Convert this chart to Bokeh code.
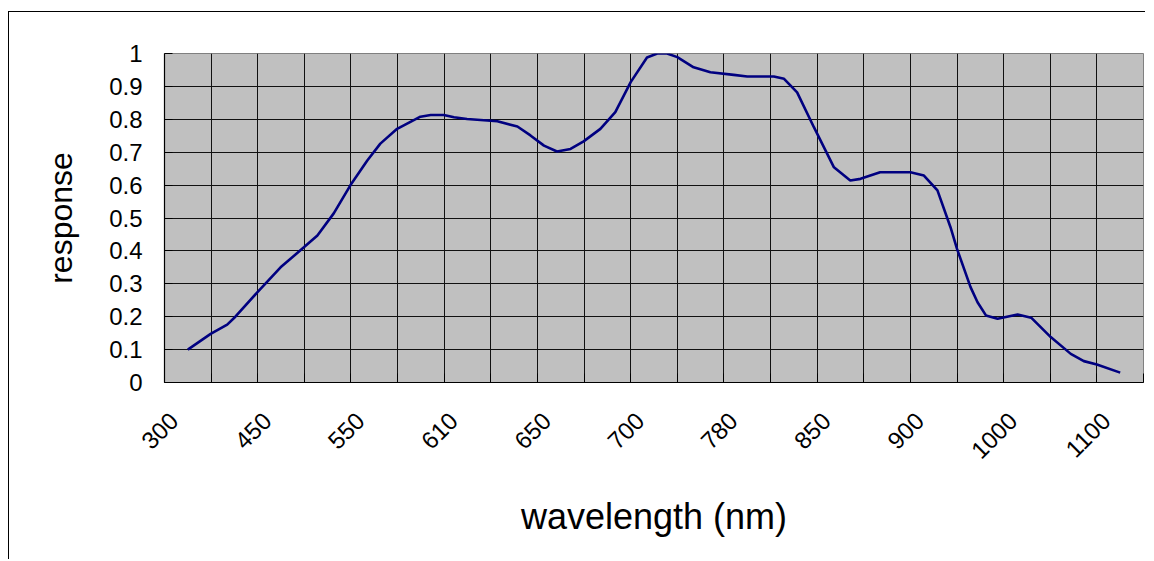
import math
from bokeh.plotting import figure
from bokeh.models import Range1d, FixedTicker
from bokeh.embed import file_html
from bokeh.resources import INLINE

# ---- data (x = category index on the Excel-style category axis) ----
tick_labels = ["300", "450", "550", "610", "650", "700", "780", "850", "900", "1000", "1100"]
n_categories = 21

category_pos = [0.0, 0.49, 0.845, 1.02, 1.49, 1.99, 2.49, 2.78, 3.13, 3.49, 3.85, 4.13, 4.49,
                4.99, 5.21, 5.49, 5.71, 5.99, 6.64, 7.07, 7.35, 7.64, 7.92, 8.21, 8.49, 8.85,
                9.17, 9.50, 9.85, 10.07, 10.28, 10.50, 10.85, 11.21, 11.71, 12.0, 12.57, 12.79,
                13.07, 13.43, 13.86, 14.21, 14.43, 14.85, 15.50, 15.79, 16.08, 16.36, 16.50,
                16.79, 16.94, 17.12, 17.37, 17.80, 18.09, 18.51, 18.94, 19.22, 19.50, 20.0]
response = [0.10, 0.148, 0.176, 0.200, 0.274, 0.350, 0.411, 0.447, 0.514, 0.600, 0.675, 0.726,
            0.771, 0.808, 0.813, 0.813, 0.806, 0.801, 0.794, 0.778, 0.751, 0.720, 0.702, 0.710,
            0.733, 0.771, 0.822, 0.913, 0.988, 1.0, 1.0, 0.989, 0.958, 0.943, 0.935, 0.930,
            0.930, 0.923, 0.882, 0.776, 0.654, 0.614, 0.619, 0.639, 0.639, 0.629, 0.584, 0.472,
            0.406, 0.290, 0.244, 0.204, 0.194, 0.207, 0.197, 0.138, 0.087, 0.065, 0.055, 0.03]

y_ticks = [i / 10 for i in range(11)]

FONT = "Liberation Sans"

p = figure(width=1137, height=548, output_backend="svg", toolbar_location=None,
           x_range=Range1d(-0.5, n_categories - 0.5), y_range=Range1d(0, 1),
           min_border_left=155, min_border_right=3, min_border_top=41, min_border_bottom=178)
p.styles = {"margin-top": "11px", "margin-left": "8px",
            "border-top": "1px solid black", "border-left": "1px solid black"}

p.border_fill_color = "white"
p.background_fill_color = "#C0C0C0"
p.outline_line_color = "#808080"
p.outline_line_width = 1

p.line(category_pos, response, line_color="#000080", line_width=2.6)

# Excel draws each rotated label ending a little left of its category centre
label_shift = 0.3
label_pos = [i - label_shift for i in range(0, n_categories, 2)]
boundaries = [i - 0.5 for i in range(n_categories + 1)]

xax = p.xaxis[0]
xax.ticker = FixedTicker(ticks=label_pos, minor_ticks=boundaries)
xax.major_label_overrides = {pos: lab for pos, lab in zip(label_pos, tick_labels)}
xax.major_label_orientation = math.pi / 4
xax.major_label_text_font = FONT
xax.major_label_text_font_size = "24px"
xax.major_label_text_color = "black"
xax.major_label_standoff = 28
xax.major_tick_line_color = None
xax.minor_tick_in = 9
xax.minor_tick_out = 0
xax.minor_tick_line_color = "black"
xax.axis_line_color = "black"
xax.axis_line_width = 1.2
xax.axis_label = "wavelength (nm)"
xax.axis_label_text_font = FONT
xax.axis_label_text_font_size = "36px"
xax.axis_label_text_font_style = "normal"
xax.axis_label_text_color = "black"
xax.axis_label_standoff = 27

yax = p.yaxis[0]
yax.ticker = FixedTicker(ticks=y_ticks, minor_ticks=[])
yax.major_label_overrides = {t: ("0" if t == 0 else ("1" if t == 1 else f"{t:.1f}")) for t in y_ticks}
yax.major_label_text_font = FONT
yax.major_label_text_font_size = "24px"
yax.major_label_text_color = "black"
yax.major_label_standoff = 22
yax.major_tick_in = 8
yax.major_tick_out = 0
yax.major_tick_line_color = "black"
yax.axis_line_color = "black"
yax.axis_line_width = 1.2
yax.axis_label = "response"
yax.axis_label_text_font = FONT
yax.axis_label_text_font_size = "32px"
yax.axis_label_text_font_style = "normal"
yax.axis_label_text_color = "black"
yax.axis_label_standoff = 27

p.xgrid.ticker = FixedTicker(ticks=boundaries)
p.ygrid.ticker = FixedTicker(ticks=y_ticks)
for g in (p.xgrid[0], p.ygrid[0]):
    g.grid_line_color = "#111111"
    g.grid_line_width = 1
    g.grid_line_alpha = 1

open("out.html", "w").write(file_html(p, INLINE))
